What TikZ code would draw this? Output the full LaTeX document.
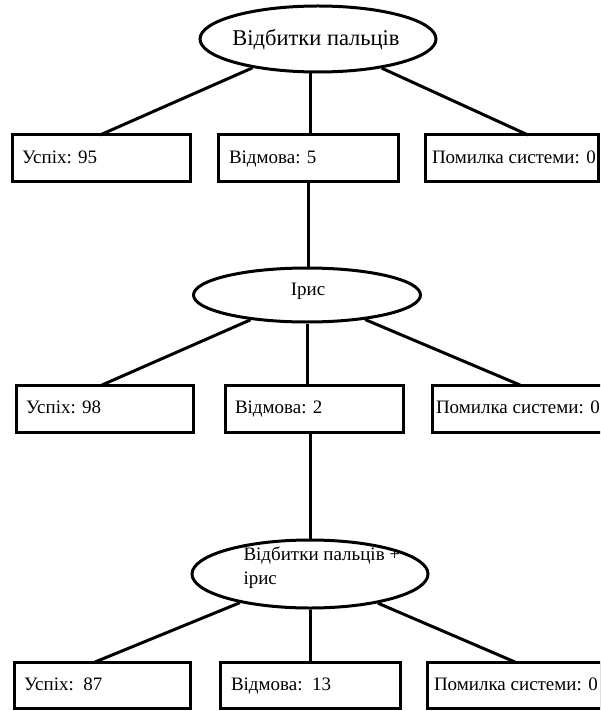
\documentclass[tikz,border=0pt]{standalone}
\usepackage{fontspec}
\setmainfont{Liberation Serif}
\usetikzlibrary{shapes.geometric}
\begin{document}
\begin{tikzpicture}[x=1pt,y=1pt,line width=3pt,
  oval/.style={draw,ellipse,inner sep=0pt},
  res/.style={draw,rectangle,minimum height=47pt,inner sep=0pt},
  lbl/.style={anchor=base west,inner sep=0pt,font=\fontsize{19}{23}\selectfont}]
\useasboundingbox (0,0) rectangle (600,-711);
\clip (0,0) rectangle (600,-711);
% ellipses
\node[oval,minimum width=236pt,minimum height=66pt] (e1) at (318,-39) {};
\node[font=\fontsize{22.5}{26}\selectfont] (t1) at (316,-40) {Відбитки пальців};
\node[oval,minimum width=227pt,minimum height=54pt] (e2) at (307,-295) {};
\node[font=\fontsize{19}{23}\selectfont] (t2) at (308,-291) {Ірис};
\node[oval,minimum width=236pt,minimum height=68pt] (e3) at (310,-574) {};
\node[font=\fontsize{19}{24}\selectfont,align=left,anchor=north west,inner sep=0pt] (t3) at (242,-545) {Відбитки пальців +\\ірис};
% row 1
\node[res,minimum width=178pt] (a1) at (101,-158.5) {};
\node[res,minimum width=180pt] (a2) at (308,-158.5) {};
\node[res,minimum width=173pt] (a3) at (511.5,-158.5) {};
\node[lbl] (la1) at ([xshift=10pt,yshift=-5pt]a1.west) {Успіх: 95};
\node[lbl] (la2) at ([xshift=11pt,yshift=-5pt]a2.west) {Відмова: 5};
\node[lbl] (la3) at ([xshift=7pt,yshift=-5pt]a3.west) {Помилка системи: 0};
% row 2
\node[res,minimum width=177pt] (b1) at (104.5,-408.5) {};
\node[res,minimum width=178pt] (b2) at (314,-408.5) {};
\node[res,minimum width=178pt] (b3) at (521,-408.5) {};
\node[lbl] (lb1) at ([xshift=10pt,yshift=-5pt]b1.west) {Успіх: 98};
\node[lbl] (lb2) at ([xshift=10pt,yshift=-5pt]b2.west) {Відмова: 2};
\node[lbl] (lb3) at ([xshift=4pt,yshift=-5pt]b3.west) {Помилка системи: 0};
% row 3
\node[res,minimum width=176pt,minimum height=46pt] (c1) at (102,-685) {};
\node[res,minimum width=180pt,minimum height=46pt] (c2) at (310,-685) {};
\node[res,minimum width=174pt,minimum height=46pt] (c3) at (514,-685) {};
\node[lbl] (lc1) at ([xshift=10pt,yshift=-5pt]c1.west) {Успіх:\ \ 87};
\node[lbl] (lc2) at ([xshift=11pt,yshift=-5pt]c2.west) {Відмова:\ \ 13};
\node[lbl] (lc3) at ([xshift=7pt,yshift=-5pt]c3.west) {Помилка системи: 0};
% connectors
\coordinate (pa1) at (100,-135);
\coordinate (pa2) at (310,-135);
\coordinate (pa3) at (528,-135);
\draw (pa1) -- (e1);
\draw (pa2) -- (pa2 |- e1.south);
\draw (pa3) -- (e1);
\draw (a2.south) -- (a2.south |- e2.north);
\coordinate (pb1) at (102,-385);
\coordinate (pb3) at (520,-385);
\draw (pb1) -- (e2);
\draw (e2.south) -- (e2.south |- b2.north);
\draw (pb3) -- (e2);
\draw (b2.south -| e3.north) -- (e3.north);
\coordinate (pc1) at (95,-662);
\coordinate (pc3) at (515,-662);
\draw (pc1) -- (e3);
\draw (e3.south) -- (e3.south |- c2.north);
\draw (pc3) -- (e3);
\end{tikzpicture}
\end{document}
